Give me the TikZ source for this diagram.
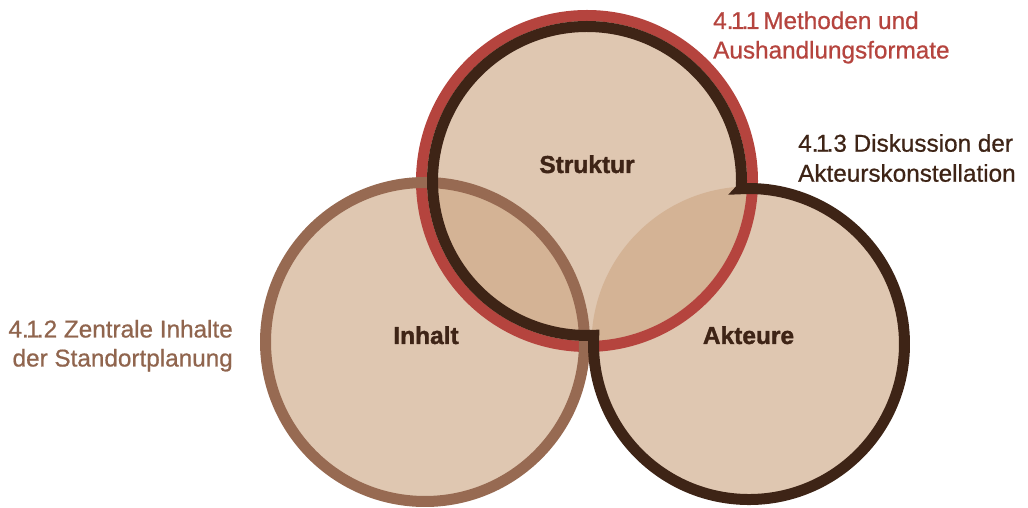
\documentclass[tikz,border=0pt]{standalone}
\usepackage{fontspec}
\setmainfont{Liberation Sans}
% medium weight for the references, heavy weight for the circle names
\newfontfamily\mediumface[FakeBold=0.7]{Liberation Sans}
\newfontfamily\heavyface[FakeBold=1.4]{Liberation Sans Bold}
\definecolor{skin}{HTML}{DFC7B1}
\definecolor{lens}{HTML}{D4B395}
\definecolor{rust}{HTML}{B5443E}
\definecolor{umber}{HTML}{3E2416}
\definecolor{clay}{HTML}{976A52}
% proportional (narrow) figure one for the section numbers
\newcommand\narrowone{\kern-.1em 1\kern-.12em}
\begin{document}
\begin{tikzpicture}[x=1pt,y=1pt,
  ring/.style={line width=11pt},
  core/.style={font=\fontsize{24.5}{29}\selectfont\heavyface, text=umber, inner sep=0pt},
  side/.style={font=\fontsize{24.3}{29}\selectfont\mediumface, inner sep=0pt}]
\useasboundingbox (0,0) rectangle (1028,508);

% circle centres
\coordinate (T) at (587,327);   % Struktur
\coordinate (L) at (425,166);   % Inhalt
\coordinate (R) at (749,164);   % Akteure

% base fills
\fill[skin] (T) circle (165.5);
\fill[skin] (L) circle (159.5);
\fill[skin] (R) circle (155.5);

% overlap areas
\begin{scope}
  \clip (L) circle (159.5);
  \fill[lens] (T) circle (160);
\end{scope}
\begin{scope}
  \clip (R) circle (157.5);
  \fill[lens] (T) circle (160);
\end{scope}

% outlines
\draw[ring, rust] (T) circle (165.5);
\draw[ring, clay] (L) circle (159.5);
% common outline of Struktur (inner ring) and Akteure
\draw[ring, umber, line join=miter]
  ([shift={(-2.86:154.5)}]T)
    arc[start angle=-2.86, end angle=272.5, radius=154.5]
    arc[start angle=176.8, end angle=452.84, radius=155.5] -- cycle;

% circle labels
\node[core, anchor=base] (struktur) at (587,335) {Struktur};
\node[core, anchor=base] (inhalt) at (426,164) {Inhalt};
\node[core, anchor=base] (akteure) at (748.5,164) {Akteure};

% section references
\node[side, text=rust, anchor=base west] (m1) at (713,479) {4.\narrowone.\narrowone\ Methoden und};
\node[side, text=rust, anchor=base west] (m2) at (713,449.5) {Aushandlungsformate};
\node[side, text=umber, anchor=base west] (d1) at (798,356.3) {4.\narrowone.3 Diskussion der};
\node[side, text=umber, anchor=base west] (d2) at (798,326.3) {Akteurskonstellation};
\node[side, text=clay!95!black, anchor=base east] (z1) at (233,170.5) {4.\narrowone.2 Zentrale Inhalte};
\node[side, text=clay!95!black, anchor=base east] (z2) at (233,141.5) {der Standortplanung};
\end{tikzpicture}
\end{document}
